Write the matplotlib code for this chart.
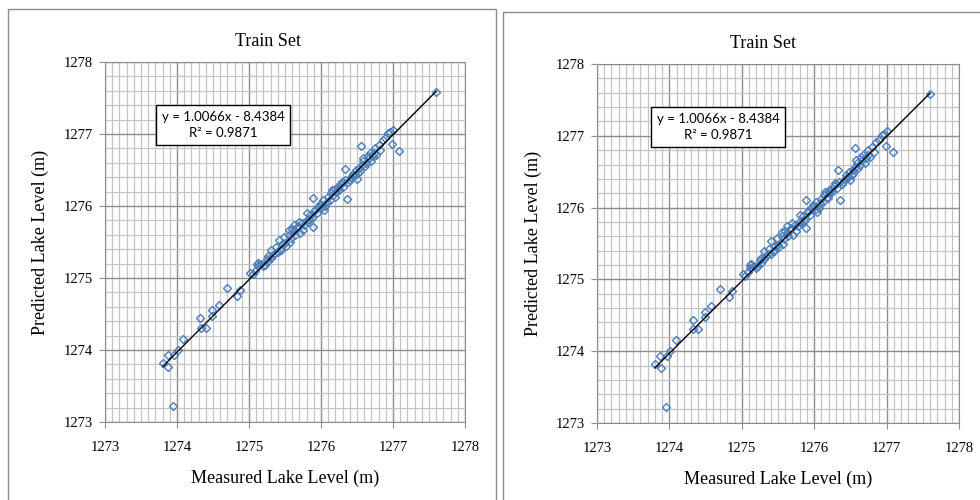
import matplotlib
matplotlib.use('Agg')
import matplotlib.pyplot as plt
import numpy as np
from matplotlib.patches import Rectangle
from matplotlib.ticker import MultipleLocator

# measured vs predicted lake level (m)
measured = [
    1273.80, 1273.87, 1273.88, 1273.95, 1273.96, 1274.01, 1274.09, 1274.32, 1274.33, 1274.40,
    1274.49, 1274.49, 1274.58, 1274.70, 1274.83, 1274.87, 1275.02, 1275.05, 1275.08, 1275.11,
    1275.13, 1275.12, 1275.17, 1275.20, 1275.22, 1275.25, 1275.27, 1275.30, 1275.31, 1275.34,
    1275.36, 1275.38, 1275.41, 1275.43, 1275.45, 1275.46, 1275.48, 1275.50, 1275.52, 1275.55,
    1275.57, 1275.58, 1275.62, 1275.62, 1275.64, 1275.66, 1275.68, 1275.71, 1275.73, 1275.75,
    1275.77, 1275.80, 1275.80, 1275.82, 1275.85, 1275.87, 1275.89, 1275.89, 1275.91, 1275.92,
    1275.94, 1275.96, 1275.98, 1276.00, 1276.03, 1276.04, 1276.06, 1276.08, 1276.10, 1276.12,
    1276.15, 1276.17, 1276.19, 1276.21, 1276.23, 1276.25, 1276.27, 1276.29, 1276.31, 1276.33,
    1276.34, 1276.36, 1276.38, 1276.40, 1276.42, 1276.44, 1276.47, 1276.48, 1276.50, 1276.52,
    1276.54, 1276.56, 1276.57, 1276.59, 1276.61, 1276.63, 1276.66, 1276.68, 1276.70, 1276.72,
    1276.75, 1276.77, 1276.80, 1276.82, 1276.86, 1276.89, 1276.93, 1276.96, 1277.00, 1276.99,
    1277.09, 1277.60, 1275.26, 1275.40, 1275.60, 1275.70, 1275.84, 1276.02, 1276.14, 1276.20,
    1276.30, 1276.45, 1276.53, 1276.65, 1276.74, 1276.58, 1275.56,
]
predicted = [
    1273.82, 1273.93, 1273.76, 1273.22, 1273.93, 1274.00, 1274.15, 1274.44, 1274.31, 1274.31,
    1274.55, 1274.47, 1274.63, 1274.86, 1274.75, 1274.84, 1275.07, 1275.05, 1275.10, 1275.20,
    1275.21, 1275.16, 1275.19, 1275.16, 1275.18, 1275.27, 1275.23, 1275.28, 1275.39, 1275.32,
    1275.35, 1275.43, 1275.53, 1275.40, 1275.39, 1275.47, 1275.57, 1275.48, 1275.45, 1275.60,
    1275.50, 1275.56, 1275.74, 1275.65, 1275.60, 1275.69, 1275.72, 1275.62, 1275.76, 1275.67,
    1275.74, 1275.90, 1275.81, 1275.78, 1275.88, 1275.83, 1275.71, 1276.11, 1275.95, 1275.94,
    1275.90, 1275.99, 1276.03, 1276.02, 1276.08, 1275.94, 1276.00, 1276.06, 1276.12, 1276.08,
    1276.22, 1276.15, 1276.13, 1276.20, 1276.25, 1276.22, 1276.30, 1276.34, 1276.27, 1276.52,
    1276.36, 1276.10, 1276.33, 1276.36, 1276.40, 1276.45, 1276.43, 1276.50, 1276.38, 1276.46,
    1276.48, 1276.83, 1276.57, 1276.62, 1276.55, 1276.60, 1276.66, 1276.73, 1276.62, 1276.69,
    1276.80, 1276.71, 1276.85, 1276.78, 1276.91, 1276.94, 1277.01, 1277.03, 1277.06, 1276.86,
    1276.77, 1277.58, 1275.30, 1275.36, 1275.68, 1275.78, 1275.82, 1275.98, 1276.18, 1276.24,
    1276.33, 1276.41, 1276.53, 1276.70, 1276.73, 1276.66, 1275.66,
]
slope, intercept, r2 = 1.0066, -8.4384, 0.9871
axis_ticks = [1273, 1274, 1275, 1276, 1277, 1278]

W, H = 980, 500
fig = plt.figure(figsize=(W / 100, H / 100), dpi=100)
serif = ['Liberation Serif', 'DejaVu Serif']

def px(x, y):
    # pixel (from top-left) -> figure fraction
    return x / W, 1 - y / H

def panel(frame, axbox, title_xy, ylab_x, xlab_xy, eq_xy):
    # outer chart frame
    fx0, fy0, fx1, fy1 = frame
    fig.patches.append(Rectangle(px(fx0, fy1), (fx1 - fx0) / W, (fy1 - fy0) / H,
                                 transform=fig.transFigure, fill=False,
                                 ec='#8c8c8c', lw=1.0))
    x0, y0, x1, y1 = axbox
    l, b = px(x0, y1)
    ax = fig.add_axes([l, b, (x1 - x0) / W, (y1 - y0) / H])

    xs = np.array([min(measured), max(measured)])
    ax.plot(measured, predicted, linestyle='none', marker='D', markersize=4.2,
            mfc='none', mec='#4a7ebb', mew=1.0, zorder=3)
    ax.plot(xs, slope * xs + intercept, color='black', lw=1.0, zorder=4)

    ax.set_xlim(1273, 1278)
    ax.set_ylim(1273, 1278)
    ax.set_xticks(axis_ticks)
    ax.set_yticks(axis_ticks)
    ax.xaxis.set_minor_locator(MultipleLocator(0.1))
    ax.yaxis.set_minor_locator(MultipleLocator(0.2))
    ax.grid(which='minor', color='#c4c4c4', lw=0.9)
    ax.grid(which='major', color='#8e8e8e', lw=1.0)
    ax.set_axisbelow(True)
    for s in ax.spines.values():
        s.set_color('#8e8e8e')
    ax.tick_params(which='major', length=4, color='#8e8e8e', labelsize=10.5)
    ax.tick_params(which='minor', length=0)
    ax.tick_params(axis='y', pad=5)
    ax.tick_params(axis='x', pad=10)
    for lab in ax.get_xticklabels() + ax.get_yticklabels():
        lab.set_family(serif)

    fig.text(*px(*title_xy), 'Train Set', ha='center', va='center',
             family=serif, fontsize=13)
    fig.text(*px(ylab_x, (y0 + y1) / 2), 'Predicted Lake Level (m)', rotation=90,
             ha='center', va='center', family=serif, fontsize=13)
    fig.text(*px(*xlab_xy), 'Measured Lake Level (m)', ha='center', va='center',
             family=serif, fontsize=13)
    fig.text(*px(*eq_xy), 'y = %.4fx - %.4f\nR² = %.4f' % (slope, -intercept, r2),
             ha='center', va='center', family=['Lato', 'DejaVu Sans'], fontsize=9.5,
             linespacing=1.35,
             bbox=dict(boxstyle='square,pad=0.45', fc='white', ec='black', lw=1.0))
    return ax

panel((8, 9, 496, 520), (105, 62, 465, 422), (268, 42), 40, (285, 478), (223, 125))
panel((503, 12, 1000, 520), (597, 64, 959, 423), (763, 43), 533, (778, 479), (718, 127))

fig.savefig('out.png', dpi=100)
